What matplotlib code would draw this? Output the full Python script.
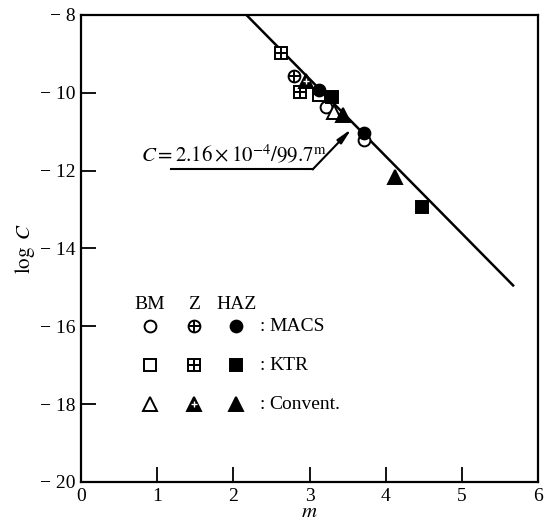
import matplotlib
matplotlib.use("Agg")
import matplotlib.pyplot as plt

plt.rcParams['font.family'] = ['Liberation Serif', 'DejaVu Serif']
plt.rcParams['mathtext.fontset'] = 'stix'

# fitted line  C = 2.16e-4 / 99.7^m  (end points)
line_m = [2.17, 5.67]
line_logC = [-8.0, -14.95]

# BM (open marks)
bm_circle_m = [3.21, 3.71]
bm_circle_c = [-10.36, -11.21]
bm_square_m = [3.12]
bm_square_c = [-10.07]
bm_tri_m = [3.32]
bm_tri_c = [-10.49]

# Z (crossed marks)
z_circle_m = [2.80]
z_circle_c = [-9.58]
z_square_m = [2.62, 2.87]
z_square_c = [-8.97, -9.97]
z_tri_m = [2.95]
z_tri_c = [-9.71]

# HAZ (filled marks)
haz_circle_m = [3.12, 3.71]
haz_circle_c = [-9.93, -11.04]
haz_square_m = [3.29, 4.47]
haz_square_c = [-10.10, -12.93]
haz_tri_m = [3.44, 4.12]
haz_tri_c = [-10.57, -12.16]

x_ticks = [0, 1, 2, 3, 4, 5, 6]
y_ticks = [-8, -10, -12, -14, -16, -18, -20]
y_ticklabels = ['\u2212 8', '\u2212 10', '\u2212 12', '\u2212 14', '\u2212 16', '\u2212 18', '\u2212 20']

groups = ['BM', 'Z', 'HAZ']
materials = ['MACS', 'KTR', 'Convent.']

fig = plt.figure(figsize=(5.47, 5.32), dpi=100)
ax = fig.add_axes([0.148, 0.094, 0.836, 0.878])

ms = 8.5
lw = 1.4


def open_mark(x, y, mk):
    s = ms + 1 if mk == '^' else ms
    ax.plot(x, y, mk, ms=s, mfc='white', mec='black', mew=lw, ls='none', zorder=3)


def cross_mark(x, y, mk):
    if mk == '^':
        ax.plot(x, y, '^', ms=ms + 1, mfc='black', mec='black', mew=lw, ls='none', zorder=3)
        ax.plot(x, y, '+', ms=4, mec='white', mew=1.0, ls='none', zorder=4)
    else:
        ax.plot(x, y, mk, ms=ms, mfc='white', mec='black', mew=lw, ls='none', zorder=3)
        ax.plot(x, y, '+', ms=ms, mec='black', mew=lw, ls='none', zorder=4)


def fill_mark(x, y, mk):
    s = ms + 1 if mk == '^' else ms
    ax.plot(x, y, mk, ms=s, mfc='black', mec='black', mew=lw, ls='none', zorder=3)


ax.plot(line_m, line_logC, color='black', lw=1.8, zorder=2)

open_mark(bm_circle_m, bm_circle_c, 'o')
open_mark(bm_square_m, bm_square_c, 's')
open_mark(bm_tri_m, bm_tri_c, '^')
cross_mark(z_circle_m, z_circle_c, 'o')
cross_mark(z_square_m, z_square_c, 's')
cross_mark(z_tri_m, z_tri_c, '^')
fill_mark(haz_circle_m, haz_circle_c, 'o')
fill_mark(haz_square_m, haz_square_c, 's')
fill_mark(haz_tri_m, haz_tri_c, '^')

# equation label with leader line
ax.text(0.79, -11.77, r'$C=2.16\times10^{-4}/99.7^{\rm m}$', fontsize=15, ha='left', va='baseline')
ax.plot([1.18, 3.04], [-11.97, -11.97], color='black', lw=1.5)
ax.annotate('', xy=(3.55, -10.93), xytext=(3.04, -11.97),
            arrowprops=dict(arrowstyle='-|>,head_length=0.9,head_width=0.18',
                            color='black', lw=1.5, shrinkA=0, shrinkB=0))

# hand-made legend
col_x = [0.90, 1.48, 2.04]
row_y = [-16, -17, -18]
for gx, g in zip(col_x, groups):
    ax.text(gx, -15.45, g, fontsize=14, ha='center', va='center')
shapes = ['o', 's', '^']
for ry, mk, mat in zip(row_y, shapes, materials):
    open_mark([col_x[0]], [ry], mk)
    cross_mark([col_x[1]], [ry], mk)
    fill_mark([col_x[2]], [ry], mk)
    ax.text(2.34, ry, ':', fontsize=14, ha='left', va='center')
    ax.text(2.47, ry, mat, fontsize=14, ha='left', va='center')

ax.set_xlim(0, 6)
ax.set_ylim(-20, -8)
ax.set_xticks(x_ticks)
ax.set_yticks(y_ticks)
ax.set_yticklabels(y_ticklabels)
ax.tick_params(direction='in', length=11, width=1.3, labelsize=14, pad=4)
for sp in ax.spines.values():
    sp.set_linewidth(1.6)

ax.set_xlabel('$m$', fontsize=15, labelpad=-1)
ax.set_ylabel(r'$\log\ C$', fontsize=15, labelpad=2)

fig.savefig('out.png', dpi=100)
